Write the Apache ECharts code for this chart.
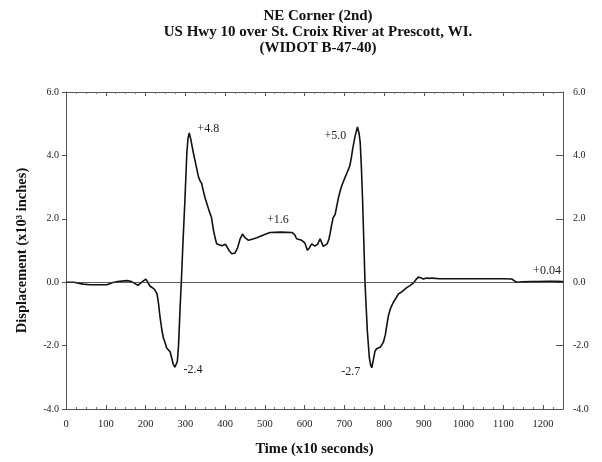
<!DOCTYPE html>
<html>
<head>
<meta charset="utf-8">
<script src="https://cdn.jsdelivr.net/npm/echarts@6/dist/echarts.min.js"></script>
<style>
  html, body { margin: 0; padding: 0; background: #fff; }
</style>
</head>
<body>
<div id="myChart" style="width: 602px; height: 462px;"></div>
<script>
    // time (x10 seconds) and displacement (x10^3 inches)
    let timeVals = [0, 20, 43, 60, 80, 103, 116, 130, 153, 165, 181, 192, 201, 205, 211, 222, 229, 233, 236, 241,
        245, 249, 253, 258, 262, 266, 270, 274, 277, 280, 283, 287, 290, 294, 299, 304, 307, 310, 314, 320,
        326, 333, 337, 341, 345, 350, 355, 360, 366, 371, 375, 379, 385, 392, 396, 401, 404, 410, 417, 425,
        432, 438, 444, 449, 459, 470, 480, 495, 513, 540, 568, 575, 580, 593, 601, 607, 612, 618, 626, 633,
        639, 643, 647, 652, 657, 661, 664, 668, 672, 677, 681, 685, 690, 694, 700, 706, 710, 714, 718, 721,
        724, 727, 730, 733, 737, 740, 743, 746, 749, 752, 755, 758, 763, 766, 769, 773, 777, 781, 786, 790,
        794, 798, 803, 807, 811, 817, 823, 830, 836, 845, 857, 866, 874, 880, 886, 892, 899, 907, 913, 920,
        940, 980, 1020, 1060, 1100, 1121, 1128, 1134, 1150, 1170, 1190, 1210, 1230, 1250];
    let dispVals = [0.0, 0.0, -0.06, -0.08, -0.08, -0.08, -0.02, 0.02, 0.05, 0.02, -0.1, 0.02, 0.1, 0.08, -0.12, -0.22, -0.37, -0.7, -1.05, -1.5,
        -1.76, -1.9, -2.07, -2.1, -2.2, -2.4, -2.6, -2.68, -2.62, -2.5, -2.0, -0.8, 0.0, 1.2, 2.56, 4.1, 4.55, 4.71, 4.5, 4.1,
        3.75, 3.33, 3.2, 3.12, 2.9, 2.65, 2.45, 2.25, 2.04, 1.63, 1.4, 1.21, 1.18, 1.15, 1.17, 1.2, 1.17, 1.0, 0.9, 0.92,
        1.1, 1.37, 1.52, 1.42, 1.32, 1.36, 1.4, 1.48, 1.57, 1.58, 1.57, 1.5, 1.37, 1.32, 1.23, 1.01, 1.08, 1.21, 1.14, 1.2,
        1.37, 1.25, 1.13, 1.15, 1.21, 1.35, 1.52, 1.8, 2.04, 2.14, 2.4, 2.65, 2.9, 3.06, 3.25, 3.43, 3.55, 3.68, 3.95, 4.2,
        4.4, 4.6, 4.75, 4.9, 4.7, 4.4, 3.6, 2.56, 1.3, 0.0, -0.8, -1.56, -2.39, -2.6, -2.7, -2.45, -2.18, -2.1, -2.08, -2.05,
        -1.98, -1.9, -1.67, -1.35, -1.05, -0.8, -0.64, -0.5, -0.37, -0.3, -0.17, -0.1, -0.02, 0.08, 0.16, 0.14, 0.1, 0.13, 0.12, 0.13,
        0.11, 0.11, 0.11, 0.11, 0.11, 0.1, 0.04, 0.0, 0.01, 0.02, 0.02, 0.03, 0.03, 0.02];

    // annotations: [time, disp, label]
    let notes = [
        [310, 4.71, '+4.8'],
        [733, 4.9, '+5.0'],
        [533, 1.57, '+1.6'],
        [274, -2.68, '-2.4'],
        [769, -2.7, '-2.7'],
        [1250, 0.02, '+0.04']
    ];
    let noteOffsets = [[19, -4], [-22, 9], [0, -13], [18, 3], [-21, 4], [-16, -11]];

    let titleLines = ['NE Corner (2nd)', 'US Hwy 10 over St. Croix River at Prescott, WI.', '(WIDOT B-47-40)'];

    let serif = '"Liberation Serif", "DejaVu Serif", serif';
    let points = timeVals.map((t, i) => [t, dispVals[i]]);

    let myChart = echarts.init(document.getElementById('myChart'));

    let yLabel = {
        color: '#222', fontFamily: serif, fontSize: 10,
        formatter: function (v) { return v.toFixed(1); }
    };
    let frameLine = { show: true, onZero: false, lineStyle: { color: '#555', width: 1 } };

    myChart.setOption({
        animation: false,
        title: {
            text: titleLines.join('\n'),
            left: 313,
            textAlign: 'center',
            top: 3,
            textStyle: { fontFamily: serif, fontWeight: 'bold', fontSize: 15, lineHeight: 16, color: '#111' }
        },
        grid: { left: 66, right: 39, top: 92, bottom: 46 },
        xAxis: [
            {
                type: 'value', min: 0, max: 1250, interval: 100,
                name: 'Time (x10 seconds)', nameLocation: 'middle', nameGap: 33,
                nameTextStyle: { fontFamily: serif, fontWeight: 'bold', fontSize: 14.5, color: '#111' },
                axisLine: frameLine,
                axisTick: { inside: true, length: 4, lineStyle: { color: '#555' } },
                minorTick: { show: true, splitNumber: 4, length: 2, lineStyle: { color: '#777' } },
                axisLabel: {
                    color: '#222', fontFamily: serif, fontSize: 10.5, margin: 10, showMaxLabel: false,
                    formatter: function (v) { return String(v); }
                },
                splitLine: { show: false }
            },
            {
                type: 'value', min: 0, max: 1250, interval: 100, position: 'top',
                axisLine: frameLine,
                axisTick: { inside: true, length: 4, lineStyle: { color: '#555' } },
                minorTick: { show: true, splitNumber: 4, length: 2, lineStyle: { color: '#777' } },
                axisLabel: { show: false },
                splitLine: { show: false }
            }
        ],
        yAxis: [
            {
                type: 'value', min: -4, max: 6, interval: 2,
                name: 'Displacement (x10³ inches)', nameLocation: 'middle', nameGap: 36,
                nameTextStyle: { fontFamily: serif, fontWeight: 'bold', fontSize: 14.5, color: '#111' },
                axisLine: frameLine,
                axisTick: { show: true, length: 4, lineStyle: { color: '#555' } },
                axisLabel: Object.assign({ margin: 7 }, yLabel),
                splitLine: { show: false }
            },
            {
                type: 'value', min: -4, max: 6, interval: 2, position: 'right',
                axisLine: frameLine,
                axisTick: { show: true, inside: true, length: 7, lineStyle: { color: '#555' } },
                axisLabel: Object.assign({ margin: 10 }, yLabel),
                splitLine: { show: false }
            }
        ],
        series: [
            {
                type: 'line',
                data: points,
                showSymbol: false,
                lineStyle: { color: '#111', width: 1.6 },
                markLine: {
                    silent: true,
                    symbol: 'none',
                    label: { show: false },
                    lineStyle: { type: 'solid', color: '#333', width: 0.8 },
                    data: [{ yAxis: 0 }]
                },
                markPoint: {
                    silent: true,
                    symbol: 'circle',
                    symbolSize: 0,
                    data: notes.map((n, i) => ({
                        coord: [n[0], n[1]],
                        label: {
                            show: true, formatter: n[2], offset: noteOffsets[i],
                            color: '#222', fontFamily: serif, fontSize: 12
                        }
                    }))
                }
            }
        ]
    });
</script>
</body>
</html>
